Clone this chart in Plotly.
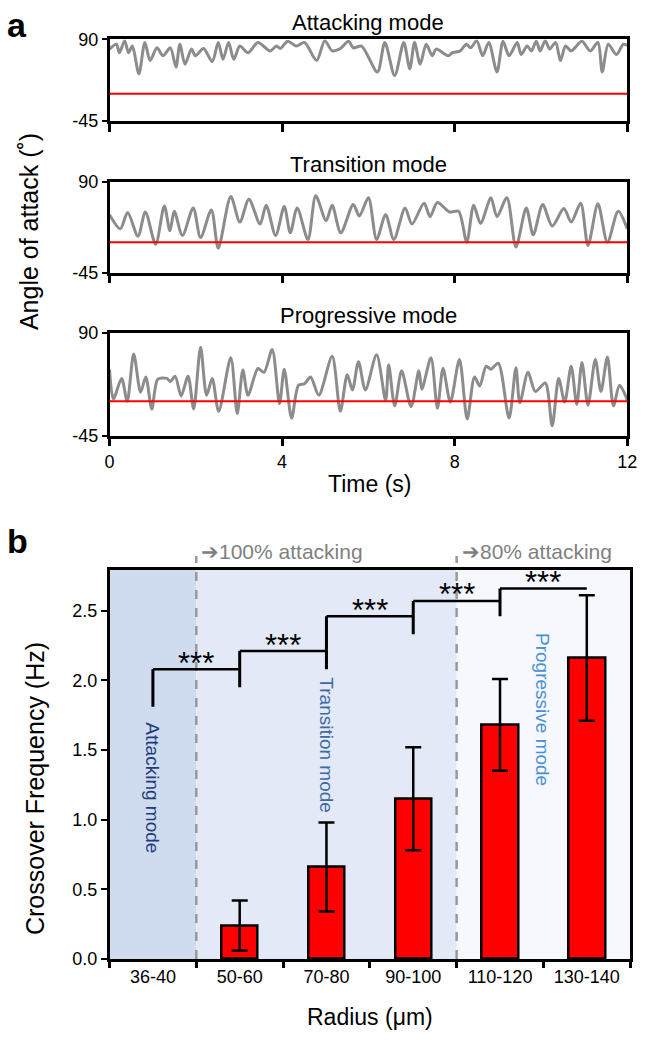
import plotly.graph_objects as go

W, H = 648, 1041


def px(x):
    return x / W


def py(y):
    return 1 - y / H


# ---------------- Panel a data (time in s, angle in degrees) ----------------
attack_t = [0.00, 0.16, 0.23, 0.35, 0.44, 0.53, 0.68, 0.82, 0.94, 1.10, 1.24, 1.41, 1.54, 1.63,
            1.75, 1.90, 1.99, 2.18, 2.38, 2.52, 2.63, 2.76, 2.88, 3.02, 3.21, 3.44, 3.72, 3.87,
            3.96, 4.13, 4.33, 4.52, 4.80, 4.99, 5.16, 5.35, 5.54, 5.65, 5.84, 6.21, 6.38, 6.61,
            6.82, 6.96, 7.07, 7.20, 7.34, 7.48, 7.57, 7.85, 7.95, 8.13, 8.27, 8.37, 8.51, 8.65,
            8.79, 8.98, 9.12, 9.26, 9.45, 9.54, 9.68, 9.78, 9.89, 9.98, 10.10, 10.20, 10.34,
            10.45, 10.57, 10.70, 10.95, 11.14, 11.32, 11.42, 11.56, 11.75, 11.91, 12.00]
attack_angle = [74, 82, 68, 88, 68, 79, 33, 85, 55, 76, 63, 76, 44, 82,
                49, 74, 63, 75, 53, 85, 57, 85, 57, 79, 68, 85, 71, 79,
                75, 87, 79, 85, 55, 88, 71, 75, 87, 76, 79, 36, 85, 30,
                85, 41, 85, 49, 82, 63, 74, 63, 68, 71, 82, 76, 88, 63,
                85, 36, 87, 63, 85, 65, 79, 71, 87, 71, 88, 74, 85,
                55, 79, 71, 87, 71, 85, 36, 82, 65, 82, 80]

transition_t = [0.00, 0.25, 0.42, 0.66, 0.83, 1.07, 1.27, 1.40, 1.50, 1.69, 1.94, 2.11, 2.36, 2.52,
                2.81, 3.02, 3.23, 3.49, 3.63, 3.85, 4.05, 4.19, 4.35, 4.60, 4.78, 5.02, 5.16, 5.36,
                5.65, 5.79, 6.00, 6.19, 6.40, 6.59, 6.85, 7.01, 7.29, 7.43, 7.60, 7.88, 8.09, 8.28,
                8.44, 8.60, 8.84, 8.98, 9.21, 9.42, 9.66, 9.82, 10.04, 10.26, 10.53, 10.70, 10.92,
                11.09, 11.32, 11.54, 11.79, 12.00]
transition_angle = [41, 20, 44, 9, 45, -3, 54, 17, 46, 10, 51, 7, 48, -9,
                    68, 30, 64, 27, 55, 10, 53, 14, 51, 4, 69, 32, 55, 14,
                    56, 39, 66, 4, 41, 4, 51, 27, 58, 38, 59, 45, 46, 0,
                    55, 28, 66, 38, 66, -7, 51, 11, 56, 24, 50, 30, 58,
                    -5, 57, 0, 46, 20]

progressive_t = [0.00, 0.09, 0.28, 0.41, 0.56, 0.72, 0.84, 0.98, 1.12, 1.33, 1.41, 1.52, 1.66, 1.82,
                 1.95, 2.11, 2.25, 2.38, 2.53, 2.81, 2.96, 3.09, 3.21, 3.44, 3.58, 3.77, 3.94, 4.05,
                 4.22, 4.38, 4.52, 4.66, 4.85, 5.16, 5.35, 5.51, 5.63, 5.77, 5.93, 6.19, 6.40, 6.47,
                 6.61, 6.77, 6.99, 7.17, 7.24, 7.45, 7.60, 7.73, 7.90, 8.11, 8.29, 8.46, 8.58, 8.73,
                 8.84, 9.01, 9.26, 9.42, 9.51, 9.70, 9.87, 10.10, 10.26, 10.41, 10.55, 10.70, 10.83,
                 10.95, 11.09, 11.26, 11.39, 11.54, 11.68, 11.82, 12.00]
progressive_angle = [42, 3, 30, 0, 62, 12, 32, -10, 29, 30, 26, 33, 7, 33,
                     -10, 71, 8, 30, -13, 57, -16, 41, 8, 43, 38, 68, -3, 42,
                     -22, 21, 23, 32, 8, 59, -13, 35, 15, 52, 15, 61, 1, 48,
                     -6, 40, -7, 40, 16, 57, -9, 43, -1, 55, -23, 32, 20, 46,
                     42, 50, -22, 44, -2, 38, 13, 24, -32, 30, -1, 46, -4,
                     51, -5, 55, 13, 58, -6, 21, 2]

panel_titles = ["Attacking mode", "Transition mode", "Progressive mode"]
time_ticks = [0, 4, 8, 12]
angle_ticks = [-45, 90]
angle_tick_text = ["-45", "90"]
reference_angle = 0

# ---------------- Panel b data ----------------
radius_bins = ["36-40", "50-60", "70-80", "90-100", "110-120", "130-140"]
crossover_freq = [None, 0.24, 0.66, 1.15, 1.68, 2.16]
crossover_err = [None, 0.18, 0.32, 0.37, 0.33, 0.45]
freq_ticks = [0.0, 0.5, 1.0, 1.5, 2.0, 2.5]
freq_tick_text = ["0.0", "0.5", "1.0", "1.5", "2.0", "2.5"]
sig_levels = [2.08, 2.21, 2.46, 2.57, 2.66]
sig_left_bottoms = [1.81, 1.95, 2.08, 2.33, 2.46]
sig_labels = ["***", "***", "***", "***", "***"]
mode_labels = ["Attacking mode", "Transition mode", "Progressive mode"]
threshold_labels = ["➔100% attacking", "➔80% attacking"]

FONT = "Arial, Liberation Sans, sans-serif"
GRAY_LINE = "#8c8c8c"
TICK_SIZE = 18

fig = go.Figure()

series = [(attack_t, attack_angle), (transition_t, transition_angle), (progressive_t, progressive_angle)]
panel_px = [(30, 113), (175, 267.7), (329, 434)]
title_py = [13, 158, 311]

for i, (t, a) in enumerate(series):
    n = i + 1
    xs = "x" if n == 1 else f"x{n}"
    ys = "y" if n == 1 else f"y{n}"
    fig.add_trace(go.Scatter(x=t, y=a, mode="lines", xaxis=xs, yaxis=ys,
                             line=dict(color=GRAY_LINE, width=3, shape="spline", smoothing=0.8),
                             showlegend=False, hoverinfo="skip"))
    top, bot = panel_px[i]
    suffix = "" if n == 1 else str(n)
    fig.update_layout(**{
        f"xaxis{suffix}": dict(domain=[px(107), px(637)], range=[0, 12], anchor=ys,
                               tickvals=time_ticks, ticks="outside", ticklen=8, tickwidth=2.5,
                               tickcolor="black", showline=True, linecolor="black", linewidth=2.5,
                               mirror=True, showgrid=False, zeroline=False,
                               showticklabels=(n == 3),
                               tickfont=dict(size=TICK_SIZE, color="black")),
        f"yaxis{suffix}": dict(domain=[py(bot), py(top)], range=[-45, 90], anchor=xs,
                               tickvals=angle_ticks, ticktext=angle_tick_text,
                               ticks="outside", ticklen=5, tickwidth=2,
                               tickcolor="black", showline=True, linecolor="black", linewidth=2.5,
                               mirror=True, showgrid=False, zeroline=False,
                               tickfont=dict(size=TICK_SIZE, color="black")),
    })
    fig.add_shape(type="line", xref=f"{xs} domain", yref=ys, x0=0, x1=1,
                  y0=reference_angle, y1=reference_angle,
                  line=dict(color="#ff0000", width=2), layer="above")
    fig.add_annotation(text=panel_titles[i], xref="paper", yref="paper",
                       x=px(372), y=py(title_py[i]), xanchor="center", yanchor="middle",
                       showarrow=False, font=dict(size=22, color="black"))

# ---------------- Panel b ----------------
fig.add_trace(go.Bar(x=radius_bins, y=crossover_freq, xaxis="x4", yaxis="y4", width=0.42,
                     marker=dict(color="#ff0000", line=dict(color="black", width=2.5)),
                     error_y=dict(type="data", array=crossover_err, visible=True,
                                  color="black", thickness=2.5, width=8),
                     showlegend=False, hoverinfo="skip"))

fig.update_layout(
    xaxis4=dict(domain=[px(107), px(640)], anchor="y4", type="category",
                categoryorder="array", categoryarray=radius_bins, range=[-0.5, 5.5],
                tickson="boundaries", ticks="outside", ticklen=6, tickwidth=2.5, tickcolor="black",
                showline=True, linecolor="black", linewidth=2.5, mirror=True, showgrid=False,
                zeroline=False, tickfont=dict(size=TICK_SIZE, color="black")),
    yaxis4=dict(domain=[py(967.5), py(570.7)], anchor="x4", range=[0, 2.794],
                tickvals=freq_ticks, ticktext=freq_tick_text, ticks="outside", ticklen=6,
                tickwidth=2, tickcolor="black", showline=True, linecolor="black", linewidth=2.5,
                mirror=True, showgrid=False, zeroline=False,
                tickfont=dict(size=TICK_SIZE, color="black")),
)

# background shading of regimes
regions = [(-0.5, 0.5, "#cfdbee"), (0.5, 3.5, "#e3e9f6"), (3.5, 5.5, "#f6f8fd")]
for x0, x1, c in regions:
    fig.add_shape(type="rect", xref="x4", yref="y4 domain", x0=x0, x1=x1, y0=0, y1=1,
                  fillcolor=c, line=dict(width=0), layer="below")

# dashed thresholds
for xb in (0.5, 3.5):
    fig.add_shape(type="line", xref="x4", yref="y4 domain", x0=xb, x1=xb, y0=0, y1=1.035,
                  line=dict(color="#999999", width=2.5, dash="dash"), layer="above")

for xb, lab in zip((0.5, 3.5), threshold_labels):
    fig.add_annotation(text=lab, xref="x4", yref="paper", x=xb, y=py(552), xshift=3,
                       xanchor="left", yanchor="middle", showarrow=False,
                       font=dict(size=21, color="#7f7f7f"))

# significance brackets
for i, (lvl, lb) in enumerate(zip(sig_levels, sig_left_bottoms)):
    fig.add_shape(type="line", xref="x4", yref="y4", x0=i, x1=i + 1, y0=lvl, y1=lvl,
                  line=dict(color="black", width=2.5), layer="above")
    fig.add_shape(type="line", xref="x4", yref="y4", x0=i, x1=i, y0=lb, y1=lvl,
                  line=dict(color="black", width=3), layer="above")
    fig.add_annotation(text=sig_labels[i], xref="x4", yref="y4", x=i + 0.5, y=lvl,
                       yshift=6, xanchor="center", yanchor="middle", showarrow=False,
                       font=dict(size=31, color="black"))

# mode labels (rotated)
mode_pos = [(0.0, 1.225, "#1f3a7e"), (2.0, 1.53, "#3d6aa3"), (4.49, 1.79, "#4a8fd4")]
for lab, (xm, ym, c) in zip(mode_labels, mode_pos):
    fig.add_annotation(text=lab, xref="x4", yref="y4", x=xm, y=ym, textangle=90,
                       xanchor="center", yanchor="middle", showarrow=False,
                       font=dict(size=19, color=c))

# axis titles and panel letters
fig.add_annotation(text="Angle of attack (˚)", xref="paper", yref="paper", x=px(24), y=py(226),
                   textangle=-90, xanchor="center", yanchor="middle", showarrow=False,
                   font=dict(size=25, color="black"))
fig.add_annotation(text="Time (s)", xref="paper", yref="paper", x=px(373), y=py(483),
                   xanchor="center", yanchor="middle", showarrow=False,
                   font=dict(size=23, color="black"))
fig.add_annotation(text="Crossover Frequency (Hz)", xref="paper", yref="paper", x=px(30),
                   y=py(794), textangle=-90, xanchor="center", yanchor="middle",
                   showarrow=False, font=dict(size=25, color="black"))
fig.add_annotation(text="Radius (μm)", xref="paper", yref="paper", x=px(374), y=py(1027),
                   xanchor="center", yanchor="middle", showarrow=False,
                   font=dict(size=23, color="black"))
fig.add_annotation(text="<b>a</b>", xref="paper", yref="paper", x=px(0), y=py(15),
                   xanchor="left", yanchor="middle", showarrow=False,
                   font=dict(size=34, color="black"))
fig.add_annotation(text="<b>b</b>", xref="paper", yref="paper", x=px(0), y=py(541),
                   xanchor="left", yanchor="middle", showarrow=False,
                   font=dict(size=34, color="black"))

fig.update_layout(width=W, height=H, margin=dict(l=0, r=0, t=0, b=0),
                  paper_bgcolor="white", plot_bgcolor="white",
                  font=dict(family=FONT, color="black"), showlegend=False, bargap=0)

fig.write_html("out.html", config={"displayModeBar": False},
               post_script="document.body.style.margin='0';"
                           "document.documentElement.style.overflow='hidden';"
                           "document.body.style.overflow='hidden';")
